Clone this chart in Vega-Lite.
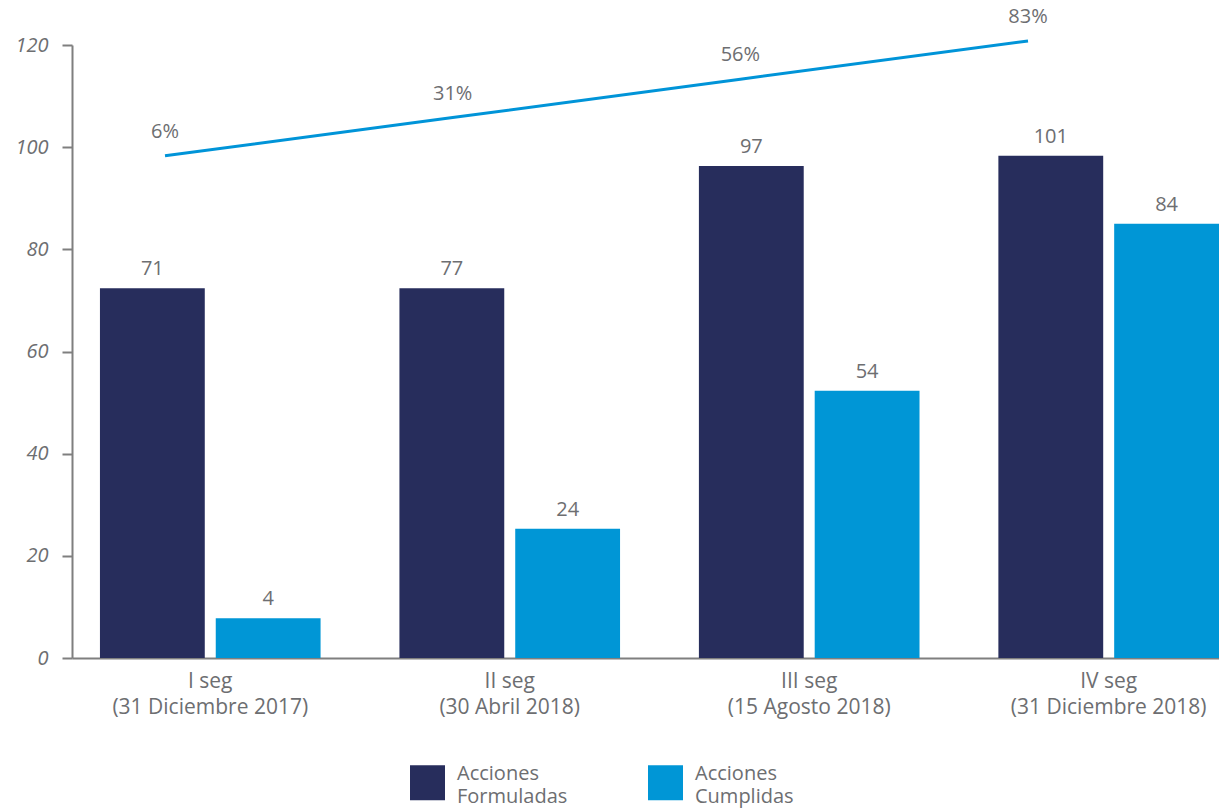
{
  "$schema": "https://vega.github.io/schema/vega-lite/v6.json",
  "width": 1147,
  "height": 613,
  "autosize": "none",
  "padding": {"left": 72, "top": 45, "right": 0, "bottom": 151},
  "background": "white",
  "config": {
    "view": {"stroke": null},
    "font": "Open Sans",
    "text": {"font": "Open Sans"}
  },
  "datasets": {
    "bars": [
      {"seg": "I seg\n(31 Diciembre 2017)", "serie": "Acciones Formuladas", "v": 72.4, "label": 71},
      {"seg": "I seg\n(31 Diciembre 2017)", "serie": "Acciones Cumplidas", "v": 7.8, "label": 4},
      {"seg": "II seg\n(30 Abril 2018)", "serie": "Acciones Formuladas", "v": 72.4, "label": 77},
      {"seg": "II seg\n(30 Abril 2018)", "serie": "Acciones Cumplidas", "v": 25.3, "label": 24},
      {"seg": "III seg\n(15 Agosto 2018)", "serie": "Acciones Formuladas", "v": 96.3, "label": 97},
      {"seg": "III seg\n(15 Agosto 2018)", "serie": "Acciones Cumplidas", "v": 52.3, "label": 54},
      {"seg": "IV seg\n(31 Diciembre 2018)", "serie": "Acciones Formuladas", "v": 98.3, "label": 101},
      {"seg": "IV seg\n(31 Diciembre 2018)", "serie": "Acciones Cumplidas", "v": 85.0, "label": 84}
    ],
    "line": [
      {"seg": "I seg\n(31 Diciembre 2017)", "y": 98.3, "pct": "6%"},
      {"seg": "II seg\n(30 Abril 2018)", "y": 105.8, "pct": "31%"},
      {"seg": "III seg\n(15 Agosto 2018)", "y": 113.3, "pct": "56%"},
      {"seg": "IV seg\n(31 Diciembre 2018)", "y": 120.8, "pct": "83%"}
    ]
  },
  "layer": [
    {
      "data": {"name": "bars"},
      "encoding": {
        "x": {
          "field": "seg", "type": "nominal", "sort": null,
          "scale": {"paddingInner": 0.2633, "paddingOuter": 0.04667, "align": 1},
          "axis": {
            "title": null, "ticks": false, "labelAngle": 0,
            "domainColor": "#7f7f7f", "domainWidth": 2,
            "labelPadding": 12, "labelFont": "Open Sans", "labelFontSize": 21,
            "labelColor": "#6d6e71", "labelLineHeight": 26, "labelLimit": 0,
            "labelExpr": "split(datum.label, '\\n')"
          }
        },
        "xOffset": {
          "field": "serie", "type": "nominal",
          "sort": ["Acciones Formuladas", "Acciones Cumplidas"],
          "scale": {"paddingInner": 0.0948, "paddingOuter": 0}
        },
        "y": {
          "field": "v", "type": "quantitative",
          "scale": {"domain": [0, 120], "nice": false},
          "axis": {
            "title": null, "grid": false, "values": [0, 20, 40, 60, 80, 100, 120],
            "domainColor": "#7f7f7f", "domainWidth": 2,
            "tickColor": "#7f7f7f", "tickWidth": 2, "tickSize": 10,
            "labelPadding": 14, "labelFont": "Open Sans", "labelFontSize": 20,
            "labelFontStyle": "italic", "labelColor": "#6d6e71"
          }
        }
      },
      "layer": [
        {
          "mark": {"type": "bar", "opacity": 1},
          "encoding": {
            "color": {
              "field": "serie", "type": "nominal",
              "scale": {"domain": ["Acciones Formuladas", "Acciones Cumplidas"], "range": ["#272d5c", "#0096d6"]},
              "legend": {
                "orient": "none", "legendX": 338, "legendY": 720,
                "direction": "horizontal", "title": null, "padding": 0,
                "symbolType": "square", "symbolSize": 1225, "symbolStrokeWidth": 0, "symbolOpacity": 1,
                "labelFont": "Open Sans", "labelFontSize": 20, "labelColor": "#6d6e71",
                "labelOffset": 12, "columnPadding": 80, "labelLimit": 0,
                "labelExpr": "split(datum.label, ' ')",
                "encode": {
                  "labels": {"update": {"lineHeight": {"value": 23}, "dy": {"value": -9}}}
                }
              }
            }
          }
        },
        {
          "mark": {"type": "text", "baseline": "alphabetic", "dy": -13, "fontSize": 20, "color": "#6d6e71", "font": "Open Sans"},
          "encoding": {"text": {"field": "label", "type": "quantitative"}}
        }
      ]
    },
    {
      "data": {"name": "line"},
      "encoding": {
        "x": {
          "field": "seg", "type": "nominal", "sort": null,
          "scale": {"type": "point", "padding": 0.4936, "align": 0.3275},
          "axis": null
        },
        "y": {"field": "y", "type": "quantitative", "scale": {"domain": [0, 120], "nice": false}}
      },
      "layer": [
        {"mark": {"type": "line", "color": "#0094d8", "strokeWidth": 3}},
        {
          "mark": {"type": "text", "baseline": "alphabetic", "dy": -18, "fontSize": 20, "color": "#6d6e71", "font": "Open Sans"},
          "encoding": {"text": {"field": "pct", "type": "nominal"}}
        }
      ]
    }
  ],
  "resolve": {"scale": {"x": "independent"}}
}
